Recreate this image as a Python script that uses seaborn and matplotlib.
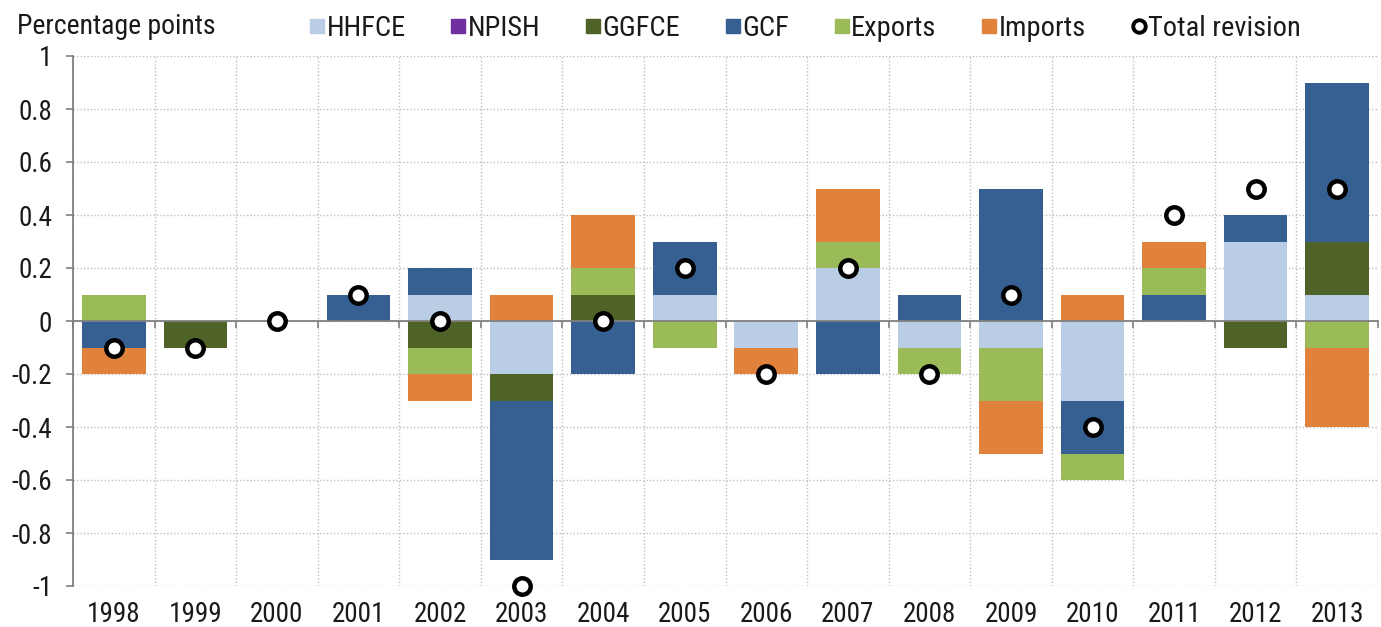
import numpy as np
import pandas as pd
import matplotlib
matplotlib.use("Agg")
import matplotlib.pyplot as plt
from matplotlib.lines import Line2D
import seaborn as sns

years = ["1998", "1999", "2000", "2001", "2002", "2003", "2004", "2005",
         "2006", "2007", "2008", "2009", "2010", "2011", "2012", "2013"]
hhfce   = [0.0, 0.0, 0.0, 0.0, 0.1, -0.2, 0.0, 0.1, -0.1, 0.2, -0.1, -0.1, -0.3, 0.0, 0.3, 0.1]
npish   = [0.0] * 16
ggfce   = [0.0, -0.1, 0.0, 0.0, -0.1, -0.1, 0.1, 0.0, 0.0, 0.0, 0.0, 0.0, 0.0, 0.0, -0.1, 0.2]
gcf     = [-0.1, 0.0, 0.0, 0.1, 0.1, -0.6, -0.2, 0.2, 0.0, -0.2, 0.1, 0.5, -0.2, 0.1, 0.1, 0.6]
exports = [0.1, 0.0, 0.0, 0.0, -0.1, 0.0, 0.1, -0.1, 0.0, 0.1, -0.1, -0.2, -0.1, 0.1, 0.0, -0.1]
imports = [-0.1, 0.0, 0.0, 0.0, -0.1, 0.1, 0.2, 0.0, -0.1, 0.2, 0.0, -0.2, 0.1, 0.1, 0.0, -0.3]
total   = [-0.1, -0.1, 0.0, 0.1, 0.0, -1.0, 0.0, 0.2, -0.2, 0.2, -0.2, 0.1, -0.4, 0.4, 0.5, 0.5]

series_names = ["HHFCE", "NPISH", "GGFCE", "GCF", "Exports", "Imports"]
series_vals = [hhfce, npish, ggfce, gcf, exports, imports]
colors = ["#B9CDE5", "#7030A0", "#4F6228", "#376092", "#9BBB59", "#E0823C"]

sns.set_style("white")
plt.rcParams['font.family'] = ['Roboto Condensed', 'Liberation Sans', 'DejaVu Sans']
FS = 19.5
TXT = "#1a1a1a"

fig = plt.figure(figsize=(13.81, 6.27), dpi=100)
ax = fig.add_axes([73 / 1381, 1 - 586 / 627, 1305 / 1381, 530 / 627])

arr = np.array(series_vals)
pos = np.clip(arr, 0, None).cumsum(axis=0)
neg = np.clip(arr, None, 0).cumsum(axis=0)

# overlay cumulative bars, outermost first
for i in range(len(series_names) - 1, -1, -1):
    for cum in (pos, neg):
        df = pd.DataFrame({"year": years, "v": cum[i]})
        sns.barplot(data=df, x="year", y="v", color=colors[i], width=0.78,
                    saturation=1, linewidth=0, errorbar=None, ax=ax, zorder=2)

dft = pd.DataFrame({"year": years, "total": total})
sns.scatterplot(data=dft, x="year", y="total", marker="o", s=140,
                facecolor="white", edgecolor="black", linewidth=3.2,
                zorder=5, clip_on=False, ax=ax, legend=False)

ax.set_xlim(-0.5, 15.5)
ax.set_ylim(-1, 1)
yt = [1, 0.8, 0.6, 0.4, 0.2, 0, -0.2, -0.4, -0.6, -0.8, -1]
ax.set_yticks(yt)
ax.set_yticklabels(["1", "0.8", "0.6", "0.4", "0.2", "0", "-0.2", "-0.4", "-0.6", "-0.8", "-1"],
                   fontsize=FS, color=TXT)
ax.tick_params(axis="y", length=5, width=1.2, color="#808080", direction="out", pad=10, left=True)
ax.yaxis.grid(True, linestyle=(0, (1, 1.5)), color="#BFBFBF", linewidth=1)
ax.set_xticks(np.arange(-0.5, 16, 1), minor=True)
ax.xaxis.grid(True, which="minor", linestyle=(0, (1, 1.5)), color="#BFBFBF", linewidth=1)
ax.xaxis.grid(False, which="major")
ax.set_axisbelow(True)

for s in ["top", "right"]:
    ax.spines[s].set_visible(False)
ax.spines["left"].set_color("#808080")
ax.spines["left"].set_linewidth(1.3)
ax.spines["bottom"].set_position(("data", 0))
ax.spines["bottom"].set_color("#808080")
ax.spines["bottom"].set_linewidth(1.3)
ax.spines["bottom"].set_zorder(3)
ax.tick_params(axis="x", which="minor", length=5, width=1.2, color="#808080", direction="out", bottom=True)
ax.tick_params(axis="x", which="major", length=0, labelbottom=False)
ax.set_xlabel("")
ax.set_ylabel("")

sec = ax.secondary_xaxis("bottom")
sec.set_xticks(range(len(years)))
sec.set_xticklabels(years, fontsize=FS, color=TXT)
sec.tick_params(length=0, pad=11)
sec.spines["bottom"].set_visible(False)

fig.text(17 / 1381, 1 - 27 / 627, "Percentage points", fontsize=20, va="center", ha="left", color=TXT)

handles = [Line2D([], [], marker="s", linestyle="none", markersize=10,
                  markerfacecolor=c, markeredgecolor=c) for c in colors]
handles.append(Line2D([], [], marker="o", linestyle="none", markersize=9,
                      markerfacecolor="white", markeredgecolor="black", markeredgewidth=2.8))
labels = series_names + ["Total revision"]
leg = fig.legend(handles, labels, loc="center left", bbox_to_anchor=(310 / 1381, 1 - 28 / 627),
                 ncol=7, frameon=False, fontsize=20.5, handlelength=0.5, handletextpad=0.08,
                 columnspacing=1.6, borderaxespad=0, borderpad=0)
for t in leg.get_texts():
    t.set_color(TXT)

fig.savefig("out.png", dpi=100)
